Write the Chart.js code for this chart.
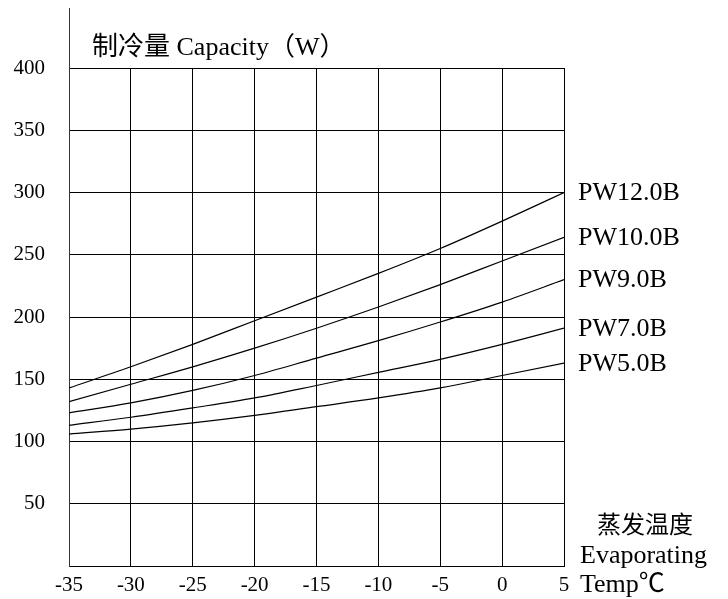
<!DOCTYPE html>
<html>
<head>
<meta charset="utf-8">
<script src="https://cdn.jsdelivr.net/npm/chart.js@4"></script>
<style>
html,body{margin:0;padding:0;background:#fff;}
#wrap{width:728px;height:599px;position:relative;}
</style>
</head>
<body>
<div id="wrap"><canvas id="c" width="728" height="599"></canvas></div>
<script>
const temps = [-35, -30, -25, -20, -15, -10, -5, 0, 5];
const seriesNames = ['PW12.0B', 'PW10.0B', 'PW9.0B', 'PW7.0B', 'PW5.0B'];
const pw12 = [143, 160, 178, 197, 216, 235, 255, 277, 300];
const pw10 = [132, 146, 160, 175, 191, 208, 226, 245, 264];
const pw9  = [123, 131, 141, 153, 167, 181, 196, 212, 230];
const pw7  = [113, 119.5, 127, 135, 145, 155.5, 166, 178, 191];
const pw5  = [106, 110, 115, 121, 128, 135, 143, 153, 163];
const yTickValues = [50, 100, 150, 200, 250, 300, 350, 400];
const titleText = '制冷量 Capacity（W）';
const xTitleLines = ['蒸发温度', 'Evaporating', 'Temp℃'];

const seriesValues = [pw12, pw10, pw9, pw7, pw5];
const SERIF = '"Liberation Serif", "Times New Roman", "Noto Sans CJK SC", serif';

const datasets = seriesValues.map((vals, i) => ({
  label: seriesNames[i],
  data: temps.map((t, j) => ({ x: t, y: vals[j] })),
  borderColor: '#000',
  borderWidth: 1.2,
  pointRadius: 0,
  fill: false,
  cubicInterpolationMode: 'monotone'
}));

const decor = {
  id: 'decor',
  afterDraw(chart) {
    const ctx = chart.ctx;
    const area = chart.chartArea;
    ctx.save();
    ctx.strokeStyle = '#333';
    ctx.lineWidth = 1;
    ctx.beginPath();
    ctx.moveTo(Math.round(area.left) + 0.5, 8);
    ctx.lineTo(Math.round(area.left) + 0.5, area.top);
    ctx.stroke();
    ctx.fillStyle = '#000';
    ctx.font = '26px ' + SERIF;
    ctx.textAlign = 'left';
    ctx.textBaseline = 'alphabetic';
    ctx.fillText(titleText, 92, 55);
    ctx.font = '26px ' + SERIF;
    ctx.textBaseline = 'middle';
    chart.data.datasets.forEach((ds, i) => {
      const meta = chart.getDatasetMeta(i);
      const pt = meta.data[meta.data.length - 1];
      ctx.fillText(ds.label, 578, pt.y + 1);
    });
    ctx.textBaseline = 'alphabetic';
    ctx.font = '24px ' + SERIF;
    ctx.textAlign = 'center';
    ctx.fillText(xTitleLines[0], 645, 533);
    ctx.font = '26px ' + SERIF;
    ctx.textAlign = 'left';
    ctx.fillText(xTitleLines[1], 580, 563);
    ctx.fillText(xTitleLines[2], 580, 592);
    ctx.restore();
  }
};

new Chart(document.getElementById('c'), {
  type: 'line',
  data: { datasets },
  options: {
    responsive: false,
    animation: false,
    events: [],
    layout: { padding: { left: 0, right: 164, top: 68, bottom: 0 } },
    plugins: { legend: { display: false }, tooltip: { enabled: false }, title: { display: false } },
    scales: {
      x: {
        type: 'linear',
        min: -35, max: 5,
        afterFit(s) { s.height = 33; s.paddingLeft = 0; s.paddingRight = 0; },
        afterBuildTicks(s) { s.ticks = temps.map(v => ({ value: v })); },
        grid: { color: '#000', lineWidth: 1, drawTicks: false },
        border: { color: '#000', width: 1 },
        ticks: { color: '#000', font: { family: SERIF, size: 21 }, padding: 7, maxRotation: 0 }
      },
      y: {
        type: 'linear',
        min: 0, max: 400,
        afterFit(s) { s.width = 69; s.paddingTop = 0; s.paddingBottom = 0; },
        afterBuildTicks(s) { s.ticks = [0].concat(yTickValues).map(v => ({ value: v })); },
        grid: { color: '#000', lineWidth: 1, drawTicks: false },
        border: { color: '#333', width: 1 },
        ticks: {
          color: '#000', font: { family: SERIF, size: 21 }, padding: 24,
          callback: v => (v === 0 ? '' : String(v))
        }
      }
    }
  },
  plugins: [decor]
});
</script>
</body>
</html>
